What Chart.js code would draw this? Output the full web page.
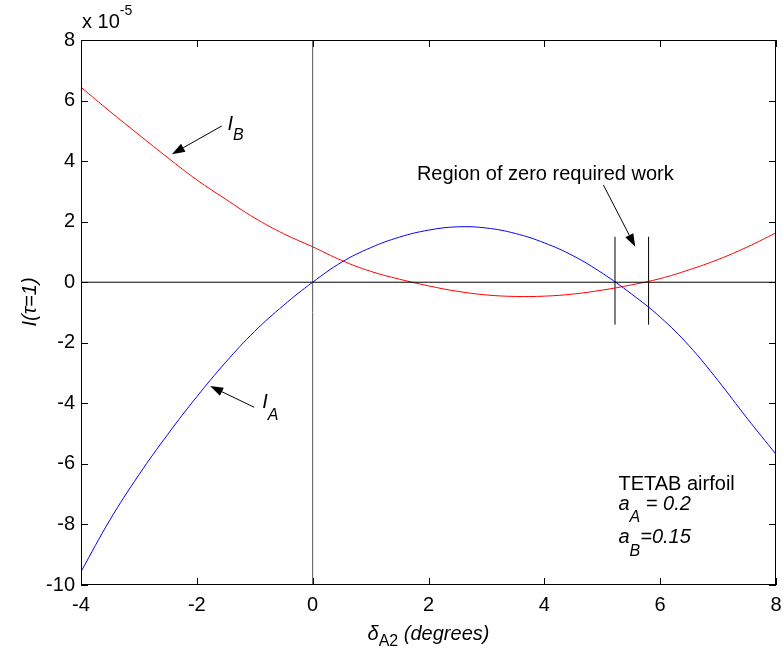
<!DOCTYPE html>
<html>
<head>
<meta charset="utf-8">
<script src="https://cdn.jsdelivr.net/npm/chart.js@4.4.1/dist/chart.umd.min.js"></script>
<style>
  html, body { margin: 0; padding: 0; background: #ffffff; }
  #wrap { width: 783px; height: 653px; }
</style>
</head>
<body>
<div id="wrap"><canvas id="workChart" width="783" height="653"></canvas></div>
<script>
// values, in units of 1e-5
const deltaA2 = [-4, -3.5, -3, -2.5, -2, -1.5, -1, -0.5, 0, 0.5, 1, 1.5, 2,
                 2.5, 3, 3.5, 4, 4.5, 5, 5.5, 6, 6.5, 7, 7.5, 8];
const iA = [-9.56, -7.85, -6.36, -5.02, -3.78, -2.64, -1.62, -0.76, 0, 0.66, 1.14, 1.49, 1.72,
            1.83, 1.79, 1.61, 1.30, 0.87, 0.30, -0.38, -1.15, -2.10, -3.25, -4.49, -5.68];
const iB = [6.44, 5.64, 4.87, 4.11, 3.38, 2.74, 2.12, 1.60, 1.17, 0.72, 0.36, 0.10, -0.12,
            -0.30, -0.42, -0.47, -0.46, -0.39, -0.26, -0.09, 0.12, 0.41, 0.75, 1.16, 1.63];
// edges of the zero-work region
const zeroWorkX = [5.22, 5.80];
const zeroWorkY = [-1.4, 1.5];
const xRange = [-4, 8];
const yRange = [-10, 8];
const tickStep = 2;

const FONT = "'Liberation Sans', Arial, Helvetica, sans-serif";

function toPoints(xs, ys) {
  return xs.map((x, i) => ({ x: x, y: ys[i] }));
}

// draws a run of text pieces one after another (for sub/superscripts)
function drawRich(ctx, x, y, parts) {
  parts.forEach(p => {
    ctx.font = (p.it ? "italic " : "") + p.size + "px " + FONT;
    ctx.fillText(p.t, x, y + (p.dy || 0));
    x += ctx.measureText(p.t).width;
  });
}
function richWidth(ctx, parts) {
  let w = 0;
  parts.forEach(p => {
    ctx.font = (p.it ? "italic " : "") + p.size + "px " + FONT;
    w += ctx.measureText(p.t).width;
  });
  return w;
}

function arrow(ctx, x1, y1, x2, y2) {
  const a = Math.atan2(y2 - y1, x2 - x1);
  const len = 13, half = 4.5;
  const bx = x2 - len * Math.cos(a), by = y2 - len * Math.sin(a);
  ctx.beginPath();
  ctx.moveTo(x1, y1);
  ctx.lineTo(bx, by);
  ctx.stroke();
  ctx.beginPath();
  ctx.moveTo(x2, y2);
  ctx.lineTo(bx + half * Math.sin(a), by - half * Math.cos(a));
  ctx.lineTo(bx - half * Math.sin(a), by + half * Math.cos(a));
  ctx.closePath();
  ctx.fill();
}

const decorPlugin = {
  id: "decor",
  afterDatasetsDraw(chart) {
    const ctx = chart.ctx;
    const xs = chart.scales.x, ys = chart.scales.y;
    const area = chart.chartArea;
    const px = v => xs.getPixelForValue(v);
    const py = v => ys.getPixelForValue(v);

    ctx.save();
    ctx.strokeStyle = "#000";
    ctx.fillStyle = "#000";
    ctx.lineWidth = 1;

    // box
    ctx.strokeRect(Math.round(area.left) + 0.5, Math.round(area.top) + 0.5,
                   Math.round(area.right - area.left) - 1, Math.round(area.bottom - area.top) - 1);

    // inward ticks on all four sides
    const tl = 7;
    ctx.beginPath();
    for (let v = xRange[0]; v <= xRange[1]; v += tickStep) {
      const x = Math.round(px(v)) + 0.5;
      ctx.moveTo(x, area.bottom); ctx.lineTo(x, area.bottom - tl);
      ctx.moveTo(x, area.top); ctx.lineTo(x, area.top + tl);
    }
    for (let v = yRange[0]; v <= yRange[1]; v += tickStep) {
      const y = Math.round(py(v)) + 0.5;
      ctx.moveTo(area.left, y); ctx.lineTo(area.left + tl, y);
      ctx.moveTo(area.right, y); ctx.lineTo(area.right - tl, y);
    }
    ctx.stroke();

    ctx.textAlign = "left";
    ctx.textBaseline = "alphabetic";

    // exponent label
    drawRich(ctx, area.left + 1, area.top - 12, [
      { t: "x 10", size: 20 },
      { t: "-5", size: 14, dy: -13 }
    ]);

    // curve labels with arrows
    arrow(ctx, px(-1.57), py(5.16), px(-2.43), py(4.23));
    drawRich(ctx, px(-1.47), py(5.03), [
      { t: "I", size: 20, it: true },
      { t: "B", size: 16, it: true, dy: 10 }
    ]);
    arrow(ctx, px(-1.01), py(-4.13), px(-1.77), py(-3.43));
    drawRich(ctx, px(-0.87), py(-4.16), [
      { t: "I", size: 20, it: true },
      { t: "A", size: 16, it: true, dy: 12 }
    ]);

    // region annotation
    drawRich(ctx, px(1.80), py(3.37), [{ t: "Region of zero required work", size: 20 }]);
    arrow(ctx, px(5.02), py(3.21), px(5.57), py(1.17));

    // parameters box text
    drawRich(ctx, px(5.28), py(-6.87), [{ t: "TETAB airfoil", size: 20 }]);
    drawRich(ctx, px(5.28), py(-7.53), [
      { t: "a", size: 20, it: true },
      { t: "A", size: 16, it: true, dy: 12 },
      { t: " = 0.2", size: 20, it: true }
    ]);
    drawRich(ctx, px(5.28), py(-8.62), [
      { t: "a", size: 20, it: true },
      { t: "B", size: 16, it: true, dy: 13 },
      { t: "=0.15", size: 20, it: true }
    ]);

    // x axis title
    const xt = [
      { t: "\u03b4", size: 20, it: true },
      { t: "A2", size: 16, dy: 6 },
      { t: " (degrees)", size: 20, it: true }
    ];
    const xc = (area.left + area.right) / 2;
    drawRich(ctx, xc - richWidth(ctx, xt) / 2, 640, xt);

    // y axis title
    const yt = [{ t: "I(\u03c4=1)", size: 20, it: true }];
    ctx.translate(36, 302);
    ctx.rotate(-Math.PI / 2);
    drawRich(ctx, -richWidth(ctx, yt) / 2, 0, yt);

    ctx.restore();
  }
};

document.addEventListener("DOMContentLoaded", () => {
  Chart.defaults.font.family = FONT;
  Chart.defaults.color = "#000";

  const lineStyle = (color) => ({
    borderColor: color,
    backgroundColor: color,
    borderWidth: 1,
    pointRadius: 0,
    fill: false
  });

  new Chart(document.getElementById("workChart").getContext("2d"), {
    type: "line",
    data: {
      datasets: [
        Object.assign({ label: "zero y", data: toPoints(xRange, [0, 0]) }, lineStyle("#000")),
        Object.assign({ label: "zero x", data: toPoints([0, 0], yRange) }, lineStyle("#555")),
        Object.assign({ label: "I_A", data: toPoints(deltaA2, iA), tension: 0.4 }, lineStyle("#0000ff")),
        Object.assign({ label: "I_B", data: toPoints(deltaA2, iB), tension: 0.4 }, lineStyle("#ff0000")),
        Object.assign({ label: "edge 1", data: toPoints([zeroWorkX[0], zeroWorkX[0]], zeroWorkY) }, lineStyle("#000")),
        Object.assign({ label: "edge 2", data: toPoints([zeroWorkX[1], zeroWorkX[1]], zeroWorkY) }, lineStyle("#000"))
      ]
    },
    options: {
      responsive: false,
      animation: false,
      layout: { padding: { top: 40, right: 7, left: 0, bottom: 0 } },
      plugins: {
        legend: { display: false },
        tooltip: { enabled: false }
      },
      scales: {
        x: {
          type: "linear",
          min: xRange[0],
          max: xRange[1],
          grid: { display: false, drawTicks: false },
          border: { display: false },
          ticks: { stepSize: tickStep, padding: 8, color: "#000", font: { size: 20 }, maxRotation: 0 },
          afterFit: (scale) => {
            scale.height = 68;
            scale.paddingLeft = 0;
            scale.paddingRight = 0;
          }
        },
        y: {
          type: "linear",
          min: yRange[0],
          max: yRange[1],
          grid: { display: false, drawTicks: false },
          border: { display: false },
          ticks: { stepSize: tickStep, padding: 6, color: "#000", font: { size: 20 } },
          afterFit: (scale) => {
            scale.width = 81;
            scale.paddingTop = 0;
            scale.paddingBottom = 0;
          }
        }
      }
    },
    plugins: [decorPlugin]
  });
});
</script>
</body>
</html>
